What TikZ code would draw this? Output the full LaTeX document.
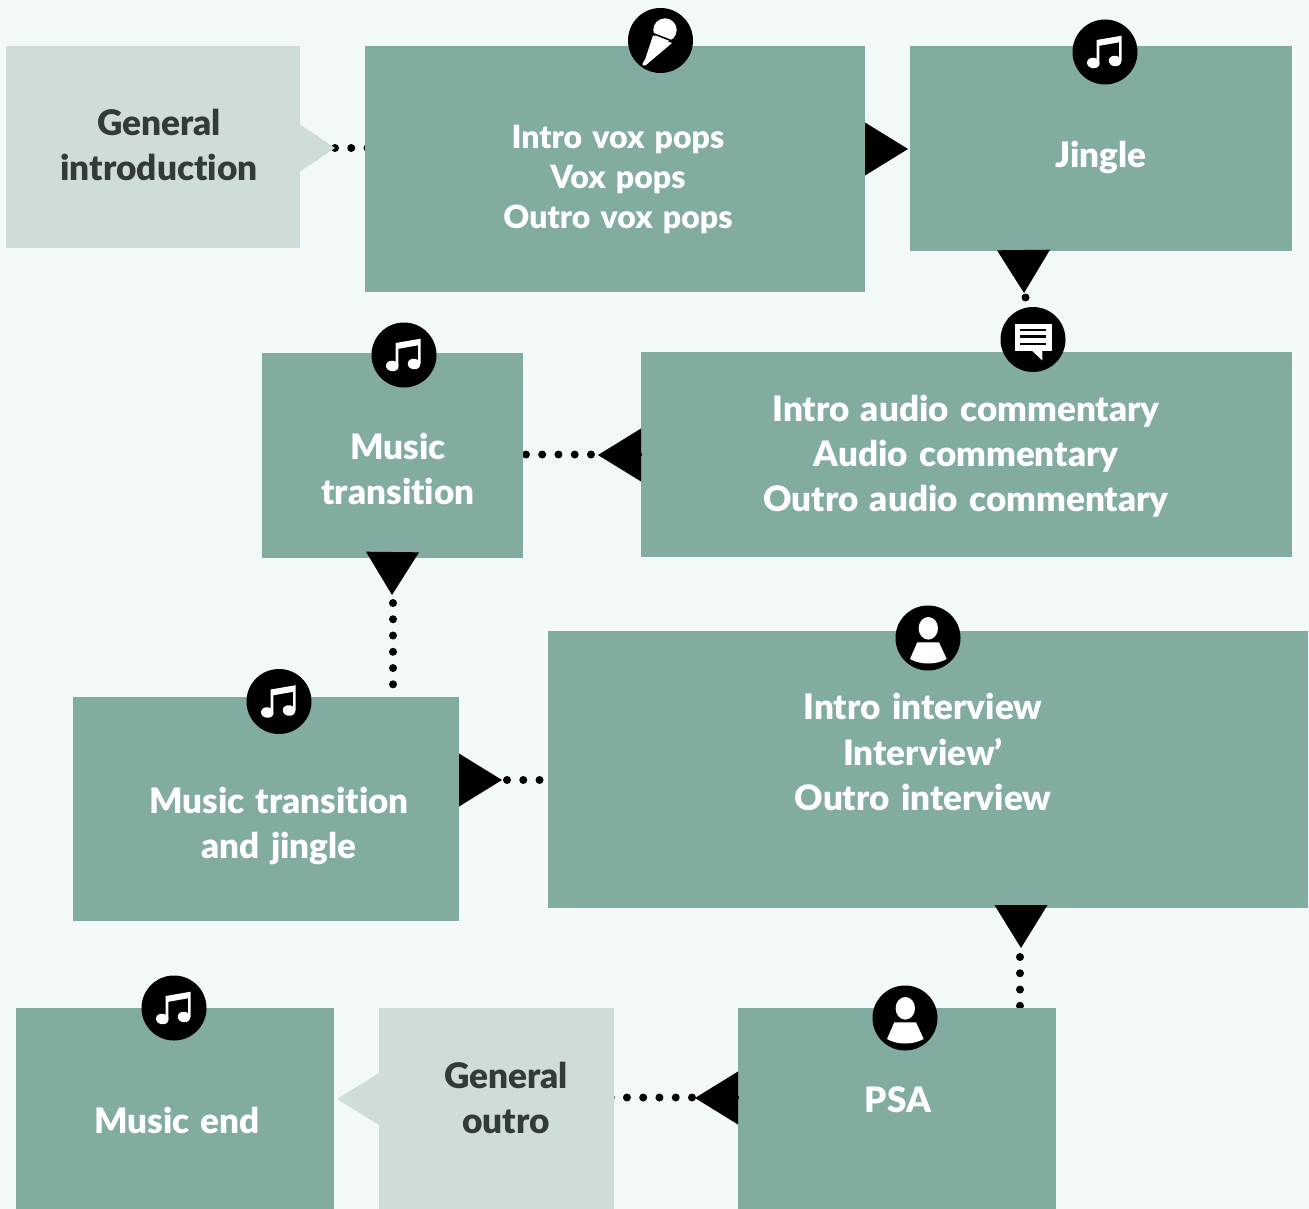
\documentclass[tikz,border=0pt]{standalone}
\usepackage{fontspec}
\setmainfont{Lato}[BoldFont={Lato Black},Ligatures=NoCommon,WordSpace=1.4]
\usetikzlibrary{arrows.meta,fit,backgrounds}
\definecolor{pagebg}{HTML}{F3F9F8}
\definecolor{boxgreen}{HTML}{82ABA1}
\definecolor{boxpale}{HTML}{CEDDDA}
\definecolor{darktext}{HTML}{333A39}
\tikzset{
    box/.style={fill=boxgreen,inner sep=0pt,outer sep=0pt},
    palebox/.style={fill=boxpale,inner sep=0pt,outer sep=0pt},
    boxtext/.style={text=white,align=center,font=\fontsize{26.3}{33.8}\selectfont\bfseries},
    smalltext/.style={text=white,align=center,font=\fontsize{24}{30}\selectfont\bfseries},
    paletext/.style={text=darktext,align=center,font=\fontsize{26.4}{33.8}\selectfont\bfseries},
    pointer/.style={-{Triangle[length=32.25pt,width=39.75pt]},line width=0pt,black,shorten <=1pt},
    palepointer/.style={-{Triangle[length=26.25pt,width=35.25pt]},line width=0pt,boxpale},
    dotline/.style={line width=6pt,line cap=round,dash pattern=on 0pt off 12.2pt},
    iconbg/.style={circle,fill=black,minimum size=48.75pt,inner sep=0pt},
    notepic/.pic={
        \fill[white] (-8.3,-12)--(16.7,-16.3)--(16.7,9)--(14,9)--(14,-9.7)--(-5.7,-6.2)--(-5.7,11)--(-8.3,11)--cycle;
        \fill[white,rotate around={-10:(-11.7,11)}] (-11.7,11) ellipse (6.3 and 5.3);
        \fill[white,rotate around={-10:(10,9)}] (10,9) ellipse (6.3 and 5.3);
    },
    micpic/.pic={
        \fill[white] (4.5,-10.5) circle (11.7);
        \fill[white] (-7.5,-5)--(11.5,2.5)--(-11,21.5)--(-15,25)--(-18,25)--(-18,23)--(-15.5,19)--cycle;
        \draw[black,line width=1.2pt] (-9,-7.5)--(13,1);
    },
    chatpic/.pic={
        \fill[white] (-18,-16) rectangle (18.7,11);
        \fill[white] (-1.3,11)--(9.3,21)--(9.3,11)--cycle;
        \foreach \liney in {-9.5,-2.8,4.5}
            \draw[black,line width=1.9pt] (-13,\liney)--(13,\liney);
    },
    personpic/.pic={
        \fill[white] (0.3,-9.7) ellipse (9.7 and 11.3);
        \fill[white] (-10.7,4.3)--(11,4.3)--(18.7,21) .. controls (8,27) and (-8,27) .. (-18,21)--cycle;
    }
}
\begin{document}
\begin{tikzpicture}[x=0.75pt,y=-0.75pt]
                \useasboundingbox (0,0) rectangle (1309,1209);
                \begin{scope}[on background layer]
                    \fill[pagebg] (0,0) rectangle (1309,1209);
                \end{scope}

                \node[palebox,fit={(6,46)(300,248)}] (intro) {};
                \node[box,fit={(365,46)(865,292)}] (voxpops) {};
                \node[box,fit={(910,46)(1292,251)}] (jingle) {};
                \node[box,fit={(641,352)(1292,557)}] (commentary) {};
                \node[box,fit={(262,353)(523,558)}] (transition) {};
                \node[box,fit={(73,697)(459,921)}] (transjingle) {};
                \node[box,fit={(548,631)(1308,908)}] (interview) {};
                \node[box,fit={(738,1008)(1056,1209)}] (psa) {};
                \node[palebox,fit={(379,1008)(614,1209)}] (outro) {};
                \node[box,fit={(16,1008)(334,1209)}] (musicend) {};

                \node[paletext] (introtext) at (159,145){General\\introduction};
                \node[smalltext] (voxtext) at (618,179){Intro vox pops\\Vox pops\\Outro vox pops};
                \node[boxtext] (jingletext) at (1101,157){Jingle};
                \node[boxtext] (commentarytext) at (966,456){Intro audio commentary\\Audio commentary\\Outro audio commentary};
                \node[boxtext] (transitiontext) at (398,469){Music\\transition};
                \node[boxtext] (transjingletext) at (279,826){Music transition\\and jingle};
                \node[boxtext] (interviewtext) at (923,752){Intro interview\\Interview’\\Outro interview};
                \node[boxtext] (psatext) at (898,1100){PSA};
                \node[paletext] (outrotext) at (506,1098){General\\outro};
                \node[boxtext] (musicendtext) at (177,1120){Music end};

                \node[iconbg] (micicon) at (660.5,40.5){};
                \pic at (micicon) {micpic};
                \node[iconbg] (jingleicon) at (1105,52){};
                \pic at (jingleicon) {notepic};
                \node[iconbg] (chaticon) at (1033,339.5){};
                \pic at (chaticon) {chatpic};
                \node[iconbg] (transitionicon) at (404,355){};
                \pic at (transitionicon) {notepic};
                \node[iconbg] (interviewicon) at (928,638){};
                \pic at (interviewicon) {personpic};
                \node[iconbg] (transjingleicon) at (279,701.5){};
                \pic at (transjingleicon) {notepic};
                \node[iconbg] (psaicon) at (905,1018){};
                \pic at (psaicon) {personpic};
                \node[iconbg] (musicendicon) at (174,1008){};
                \pic at (musicendicon) {notepic};

                \coordinate (introtip) at (335,148);
                \coordinate (voxtip) at (908,149);
                \coordinate (jingletip) at (1024,293);
                \coordinate (commentarytip) at (598,455);
                \coordinate (transitiontip) at (392,595);
                \coordinate (transjingletip) at (502,780);
                \coordinate (interviewtip) at (1021,948);
                \coordinate (psatip) at (695,1098);
                \coordinate (outrotip) at (337,1099);

                \draw[palepointer] (intro.east |- introtip)--(introtip);
                \draw[pointer] (voxpops.east |- voxtip)--(voxtip);
                \draw[pointer] (1023.5,249)--(jingletip);
                \draw[pointer] (commentary.west |- commentarytip)--(commentarytip);
                \draw[pointer] (392.5,552)--(transitiontip);
                \draw[pointer] (transjingle.east |- transjingletip)--(transjingletip);
                \draw[pointer] (interview.south -| interviewtip)--(interviewtip);
                \draw[pointer] (psa.west |- psatip)--(psatip);
                \draw[pointer,boxpale] (outro.west |- outrotip)--(outrotip);

                \coordinate (jingledots) at (1025.5,297.5);
                \coordinate (commentarydots) at (591,454.5);
                \coordinate (transitiondots) at (393,603);
                \coordinate (transjingledots) at (507,780);
                \coordinate (interviewdots) at (1020,957);
                \coordinate (psadots) at (692,1097.5);

                \begin{scope}[on background layer]
                    \draw[dotline] (introtip)--(voxpops.center |- introtip);
                    \draw[dotline] (jingledots)--(chaticon);
                    \draw[dotline] (commentarydots)--(transition.east |- commentarydots);
                    \draw[dotline] (transitiondots)--(transjingle.north -| transitiondots);
                    \draw[dotline] (transjingledots)--(interview.west |- transjingledots);
                    \draw[dotline] (interviewdots)--(psa.center -| interviewdots);
                    \draw[dotline] (psadots)--(outro.center |- psadots);
                \end{scope}
\end{tikzpicture}
\end{document}
